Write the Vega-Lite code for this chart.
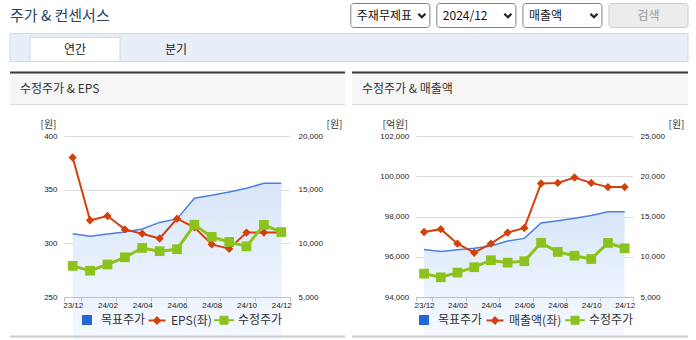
{
  "$schema": "https://vega.github.io/schema/vega-lite/v6.json",
  "background": "#ffffff",
  "padding": {"left": 4, "top": 2.5, "right": 0, "bottom": 0},
  "config": {"view": {"stroke": null}, "font": "Noto Sans CJK KR"},
  "datasets": {
    "monthly": [
      {"month": "23/12", "target": 10900, "adj": 7900, "eps": 380, "revenue": 97230},
      {"month": "24/01", "target": 10650, "adj": 7450, "eps": 321.5, "revenue": 97370},
      {"month": "24/02", "target": 10870, "adj": 8030, "eps": 325.5, "revenue": 96650},
      {"month": "24/03", "target": 11050, "adj": 8700, "eps": 313, "revenue": 96200},
      {"month": "24/04", "target": 11330, "adj": 9570, "eps": 309, "revenue": 96650},
      {"month": "24/05", "target": 11950, "adj": 9270, "eps": 304.5, "revenue": 97200},
      {"month": "24/06", "target": 12280, "adj": 9450, "eps": 323, "revenue": 97430},
      {"month": "24/07", "target": 14200, "adj": 11730, "eps": 315, "revenue": 99640},
      {"month": "24/08", "target": 14470, "adj": 10600, "eps": 299, "revenue": 99670},
      {"month": "24/09", "target": 14780, "adj": 10130, "eps": 295, "revenue": 99940},
      {"month": "24/10", "target": 15130, "adj": 9720, "eps": 310, "revenue": 99670},
      {"month": "24/11", "target": 15600, "adj": 11720, "eps": 310, "revenue": 99460},
      {"month": "24/12", "target": 15600, "adj": 11050, "eps": 310, "revenue": 99460}
    ],
    "controls": [
      {"label": "주재무제표", "kind": "select"},
      {"label": "2024/12", "kind": "select"},
      {"label": "매출액", "kind": "select"},
      {"label": "검색", "kind": "button"}
    ],
    "tabs": [
      {"tab": "연간", "active": true},
      {"tab": "분기", "active": false}
    ]
  },
  "spacing": 4,
  "bounds": "full",
  "resolve": {"scale": {"color": "independent", "fill": "independent", "stroke": "independent", "shape": "independent"}},
  "vconcat": [
    {
      "width": 678,
      "height": 24,
      "title": {"text": "주가 & 컨센서스", "anchor": "start", "offset": -21, "font": "Noto Sans CJK KR", "fontSize": 15, "fontWeight": "normal", "color": "#2b3f6b"},
      "data": {"name": "controls"},
      "encoding": {
        "x": {"field": "label", "type": "nominal", "sort": null, "scale": {"type": "band", "domain": ["주재무제표", "2024/12", "매출액", "검색"], "range": [340.8, 678], "paddingInner": 0.0814, "paddingOuter": 0}, "axis": null}
      },
      "layer": [
        {"transform": [{"filter": "datum.kind === 'select'"}], "mark": {"type": "rect", "fill": "#ffffff", "stroke": "#808080", "strokeWidth": 1, "cornerRadius": 3}},
        {"transform": [{"filter": "datum.kind === 'button'"}], "mark": {"type": "rect", "fill": "#ececec", "stroke": "#cccccc", "strokeWidth": 1, "cornerRadius": 3}},
        {"transform": [{"filter": "datum.kind === 'select'"}], "mark": {"type": "text", "align": "left", "baseline": "middle", "dx": 6, "font": "Noto Sans CJK KR", "fontSize": 12, "color": "#111111"},
         "encoding": {"x": {"field": "label", "type": "nominal", "sort": null, "bandPosition": 0, "scale": {"type": "band", "domain": ["주재무제표", "2024/12", "매출액", "검색"], "range": [340.8, 678], "paddingInner": 0.0814, "paddingOuter": 0}, "axis": null}, "text": {"field": "label"}}},
        {"transform": [{"filter": "datum.kind === 'select'"}], "mark": {"type": "point", "shape": "M-1,-0.5L0,0.5L1,-0.5", "filled": false, "stroke": "#222222", "strokeWidth": 2.2, "size": 50, "opacity": 1, "xOffset": -8},
         "encoding": {"x": {"field": "label", "type": "nominal", "sort": null, "bandPosition": 1, "scale": {"type": "band", "domain": ["주재무제표", "2024/12", "매출액", "검색"], "range": [340.8, 678], "paddingInner": 0.0814, "paddingOuter": 0}, "axis": null}}},
        {"transform": [{"filter": "datum.kind === 'button'"}], "mark": {"type": "text", "align": "center", "baseline": "middle", "font": "Noto Sans CJK KR", "fontSize": 12, "color": "#999999"},
         "encoding": {"x": {"field": "label", "type": "nominal", "sort": null, "bandPosition": 0.5, "scale": {"type": "band", "domain": ["주재무제표", "2024/12", "매출액", "검색"], "range": [340.8, 678], "paddingInner": 0.0814, "paddingOuter": 0}, "axis": null}, "text": {"field": "label"}}}
      ]
    },
    {
      "width": 678,
      "height": 34,
      "layer": [
        {"data": {"values": [{"part": "bar"}]}, "mark": {"type": "rect", "fill": "#e8eef8", "stroke": "#d3dbe7", "strokeWidth": 1},
         "encoding": {"y": {"field": "part", "type": "nominal", "scale": {"type": "band", "paddingInner": 0, "paddingOuter": 0.107, "align": 0}, "axis": null}}},
        {"data": {"name": "tabs"}, "transform": [{"filter": "datum.active"}], "mark": {"type": "rect", "fill": "#ffffff", "stroke": "#cfd7e3", "strokeWidth": 1},
         "encoding": {
           "x": {"field": "tab", "type": "nominal", "sort": null, "scale": {"type": "band", "domain": ["연간", "분기"], "range": [20, 211], "paddingInner": 0.109, "paddingOuter": 0}, "axis": null},
           "y": {"datum": "tab", "type": "nominal", "scale": {"type": "band", "domain": ["tab"], "paddingInner": 0, "paddingOuter": 0.2083, "align": 0.4}, "axis": null}
         }},
        {"data": {"name": "tabs"}, "mark": {"type": "text", "align": "center", "baseline": "middle", "font": "Noto Sans CJK KR", "fontSize": 12, "color": "#222222"},
         "encoding": {
           "x": {"field": "tab", "type": "nominal", "sort": null, "bandPosition": 0.5, "scale": {"type": "band", "domain": ["연간", "분기"], "range": [20, 211], "paddingInner": 0.109, "paddingOuter": 0}, "axis": null},
           "y": {"datum": "tab", "type": "nominal", "bandPosition": 0.5, "scale": {"type": "band", "domain": ["tab"], "paddingInner": 0, "paddingOuter": 0.2083, "align": 0.4}, "axis": null},
           "text": {"field": "tab"}
         }}
      ],
      "resolve": {"scale": {"y": "independent"}}
    },
    {
      "columns": 2,
      "bounds": "flush",
      "align": "each",
      "spacing": {"row": 31.5, "column": 7},
      "resolve": {"scale": {"color": "independent", "fill": "independent", "stroke": "independent", "shape": "independent"}},
      "concat": [
        {
          "width": 335,
          "height": 32,
          "view": {"fill": "#f5f5f5", "stroke": null},
          "layer": [
            {"data": {"values": [{"edge": "bottom"}]}, "mark": {"type": "rule", "color": "#dddddd", "strokeWidth": 1},
             "encoding": {"y": {"field": "edge", "type": "nominal", "scale": {"type": "point", "domain": ["top", "bottom"], "padding": 0}, "axis": null}}},
            {"data": {"values": [{"edge": "top"}]}, "mark": {"type": "rule", "color": "#3a3a3a", "strokeWidth": 2},
             "encoding": {"y": {"field": "edge", "type": "nominal", "scale": {"type": "point", "domain": ["top", "bottom"], "padding": 0}, "axis": null}}},
            {"data": {"values": [{"title": "수정주가 & EPS"}]}, "mark": {"type": "text", "align": "left", "baseline": "middle", "dx": 10, "font": "Noto Sans CJK KR", "fontSize": 12, "color": "#333333"},
             "encoding": {"x": {"field": "title", "type": "nominal", "scale": {"type": "point", "padding": 0, "align": 0}, "axis": null}, "text": {"field": "title"}}}
          ]
        },
        {
          "width": 336,
          "height": 32,
          "view": {"fill": "#f5f5f5", "stroke": null},
          "layer": [
            {"data": {"values": [{"edge": "bottom"}]}, "mark": {"type": "rule", "color": "#dddddd", "strokeWidth": 1},
             "encoding": {"y": {"field": "edge", "type": "nominal", "scale": {"type": "point", "domain": ["top", "bottom"], "padding": 0}, "axis": null}}},
            {"data": {"values": [{"edge": "top"}]}, "mark": {"type": "rule", "color": "#3a3a3a", "strokeWidth": 2},
             "encoding": {"y": {"field": "edge", "type": "nominal", "scale": {"type": "point", "domain": ["top", "bottom"], "padding": 0}, "axis": null}}},
            {"data": {"values": [{"title": "수정주가 & 매출액"}]}, "mark": {"type": "text", "align": "left", "baseline": "middle", "dx": 10, "font": "Noto Sans CJK KR", "fontSize": 12, "color": "#333333"},
             "encoding": {"x": {"field": "title", "type": "nominal", "scale": {"type": "point", "padding": 0, "align": 0}, "axis": null}, "text": {"field": "title"}}}
          ]
        },
        {
          "width": 280,
          "height": 161,
          "encoding": {
            "x": {"field": "month", "type": "ordinal", "bandPosition": 0.5,
              "scale": {"type": "band", "domain": ["23/12", "24/01", "24/02", "24/03", "24/04", "24/05", "24/06", "24/07", "24/08", "24/09", "24/10", "24/11", "24/12"], "range": [54, 280], "paddingInner": 0, "paddingOuter": 0},
              "axis": {"values": ["23/12", "24/02", "24/04", "24/06", "24/08", "24/10", "24/12"], "labelAngle": 0, "tickBand": "extent", "domainColor": "#b9c3d6", "tickColor": "#b9c3d6", "tickSize": 4, "labelPadding": 0, "labelFont": "Liberation Sans", "labelFontSize": 8, "labelColor": "#222222", "grid": false, "title": null, "zindex": 1}}
          },
          "layer": [
            {"data": {"name": "monthly"}, "mark": {"type": "area", "opacity": 1, "color": {"gradient": "linear", "x1": 0, "y1": 0, "x2": 0, "y2": 1, "stops": [{"offset": 0, "color": "#d8e6f9"}, {"offset": 1, "color": "#f7faff"}]}},
             "encoding": {"y": {"field": "target", "type": "quantitative", "scale": {"domain": [5000, 20000], "zero": false, "nice": false}, "axis": null}}},
            {"data": {"name": "monthly"}, "mark": {"type": "line", "color": "#4a80de", "strokeWidth": 1.5},
             "encoding": {"y": {"field": "target", "type": "quantitative", "scale": {"domain": [5000, 20000], "zero": false, "nice": false}, "axis": null}}},
            {"data": {"name": "monthly"}, "mark": {"type": "line", "color": "#d4400c", "strokeWidth": 2, "point": {"shape": "diamond", "filled": true, "size": 70, "color": "#d4400c"}},
             "encoding": {"y": {"field": "eps", "type": "quantitative", "scale": {"domain": [250, 400], "zero": false, "nice": false},
               "axis": {"orient": "left", "offset": -54, "values": [250, 300, 350, 400], "grid": true, "gridColor": "#dddddd", "domain": false, "ticks": false, "labelPadding": 7, "labelFont": "Liberation Sans", "labelFontSize": 8, "labelColor": "#222222", "title": "[원]", "titleAngle": 0, "titleX": -16, "titleY": -12, "titleAlign": "center", "titleBaseline": "middle", "titleFont": "Noto Sans CJK KR", "titleFontSize": 10, "titleFontWeight": "normal", "titleColor": "#333333"}}}},
            {"data": {"name": "monthly"}, "mark": {"type": "line", "color": "#8cc21c", "strokeWidth": 3, "point": {"shape": "square", "filled": true, "size": 95, "color": "#8cc21c"}},
             "encoding": {"y": {"field": "adj", "type": "quantitative", "scale": {"domain": [5000, 20000], "zero": false, "nice": false},
               "axis": {"orient": "right", "values": [5000, 10000, 15000, 20000], "format": ",d", "grid": false, "domain": false, "ticks": false, "labelPadding": 8, "labelFont": "Liberation Sans", "labelFontSize": 8, "labelColor": "#222222", "title": "[원]", "titleAngle": 0, "titleX": 44, "titleY": -12, "titleAlign": "center", "titleBaseline": "middle", "titleFont": "Noto Sans CJK KR", "titleFontSize": 10, "titleFontWeight": "normal", "titleColor": "#333333"}}}},
            {"data": {"values": [{"series": "목표주가"}, {"series": "EPS(좌)"}, {"series": "수정주가"}]},
             "mark": {"type": "point", "opacity": 0, "strokeWidth": 2},
             "encoding": {
               "fill": {"field": "series", "type": "nominal", "scale": {"domain": ["목표주가", "EPS(좌)", "수정주가"], "range": ["#2368d8", "#d4400c", "#8cc21c"]},
                 "legend": {"orient": "none", "legendX": 71, "legendY": 178, "direction": "horizontal", "title": null, "labelFont": "Noto Sans CJK KR", "labelFontSize": 12, "labelColor": "#333333", "symbolSize": 90, "labelOffset": 8, "columnPadding": -2, "symbolStrokeWidth": 2, "encode": {"symbols": {"update": {"opacity": {"value": 1}}}}}},
               "stroke": {"field": "series", "type": "nominal", "scale": {"domain": ["목표주가", "EPS(좌)", "수정주가"], "range": ["#2368d8", "#d4400c", "#8cc21c"]}, "legend": {}},
               "shape": {"field": "series", "type": "nominal", "scale": {"domain": ["목표주가", "EPS(좌)", "수정주가"], "range": ["M-0.84,-0.84L0.84,-0.84L0.84,0.84L-0.84,0.84Z", "M-1.8,0L1.8,0M0,-0.63L0.63,0L0,0.63L-0.63,0Z", "M-2.1,0L2.1,0M-0.74,-0.74L0.74,-0.74L0.74,0.74L-0.74,0.74Z"]}, "legend": {}}
             }}
          ],
          "resolve": {"scale": {"y": "independent"}}
        },
        {
          "width": 281,
          "height": 161,
          "encoding": {
            "x": {"field": "month", "type": "ordinal", "bandPosition": 0.5,
              "scale": {"type": "band", "domain": ["23/12", "24/01", "24/02", "24/03", "24/04", "24/05", "24/06", "24/07", "24/08", "24/09", "24/10", "24/11", "24/12"], "range": [63.7, 281], "paddingInner": 0, "paddingOuter": 0},
              "axis": {"values": ["23/12", "24/02", "24/04", "24/06", "24/08", "24/10", "24/12"], "labelAngle": 0, "tickBand": "extent", "domainColor": "#b9c3d6", "tickColor": "#b9c3d6", "tickSize": 4, "labelPadding": 0, "labelFont": "Liberation Sans", "labelFontSize": 8, "labelColor": "#222222", "grid": false, "title": null, "zindex": 1}}
          },
          "layer": [
            {"data": {"name": "monthly"}, "mark": {"type": "area", "opacity": 1, "color": {"gradient": "linear", "x1": 0, "y1": 0, "x2": 0, "y2": 1, "stops": [{"offset": 0, "color": "#d8e6f9"}, {"offset": 1, "color": "#f7faff"}]}},
             "encoding": {"y": {"field": "target", "type": "quantitative", "scale": {"domain": [5000, 25000], "zero": false, "nice": false}, "axis": null}}},
            {"data": {"name": "monthly"}, "mark": {"type": "line", "color": "#4a80de", "strokeWidth": 1.5},
             "encoding": {"y": {"field": "target", "type": "quantitative", "scale": {"domain": [5000, 25000], "zero": false, "nice": false}, "axis": null}}},
            {"data": {"name": "monthly"}, "mark": {"type": "line", "color": "#d4400c", "strokeWidth": 2, "point": {"shape": "diamond", "filled": true, "size": 70, "color": "#d4400c"}},
             "encoding": {"y": {"field": "revenue", "type": "quantitative", "scale": {"domain": [94000, 102000], "zero": false, "nice": false},
               "axis": {"orient": "left", "offset": -63.7, "values": [94000, 96000, 98000, 100000, 102000], "format": ",d", "grid": true, "gridColor": "#dddddd", "domain": false, "ticks": false, "labelPadding": 7, "labelFont": "Liberation Sans", "labelFontSize": 8, "labelColor": "#222222", "title": "[억원]", "titleAngle": 0, "titleX": -21, "titleY": -12, "titleAlign": "center", "titleBaseline": "middle", "titleFont": "Noto Sans CJK KR", "titleFontSize": 10, "titleFontWeight": "normal", "titleColor": "#333333"}}}},
            {"data": {"name": "monthly"}, "mark": {"type": "line", "color": "#8cc21c", "strokeWidth": 3, "point": {"shape": "square", "filled": true, "size": 95, "color": "#8cc21c"}},
             "encoding": {"y": {"field": "adj", "type": "quantitative", "scale": {"domain": [5000, 25000], "zero": false, "nice": false},
               "axis": {"orient": "right", "values": [5000, 10000, 15000, 20000, 25000], "format": ",d", "grid": false, "domain": false, "ticks": false, "labelPadding": 7, "labelFont": "Liberation Sans", "labelFontSize": 8, "labelColor": "#222222", "title": "[원]", "titleAngle": 0, "titleX": 43, "titleY": -12, "titleAlign": "center", "titleBaseline": "middle", "titleFont": "Noto Sans CJK KR", "titleFontSize": 10, "titleFontWeight": "normal", "titleColor": "#333333"}}}},
            {"data": {"values": [{"series": "목표주가"}, {"series": "매출액(좌)"}, {"series": "수정주가"}]},
             "mark": {"type": "point", "opacity": 0, "strokeWidth": 2},
             "encoding": {
               "fill": {"field": "series", "type": "nominal", "scale": {"domain": ["목표주가", "매출액(좌)", "수정주가"], "range": ["#2368d8", "#d4400c", "#8cc21c"]},
                 "legend": {"orient": "none", "legendX": 66, "legendY": 178, "direction": "horizontal", "title": null, "labelFont": "Noto Sans CJK KR", "labelFontSize": 12, "labelColor": "#333333", "symbolSize": 90, "labelOffset": 8, "columnPadding": -1, "symbolStrokeWidth": 2, "encode": {"symbols": {"update": {"opacity": {"value": 1}}}}}},
               "stroke": {"field": "series", "type": "nominal", "scale": {"domain": ["목표주가", "매출액(좌)", "수정주가"], "range": ["#2368d8", "#d4400c", "#8cc21c"]}, "legend": {}},
               "shape": {"field": "series", "type": "nominal", "scale": {"domain": ["목표주가", "매출액(좌)", "수정주가"], "range": ["M-0.84,-0.84L0.84,-0.84L0.84,0.84L-0.84,0.84Z", "M-1.8,0L1.8,0M0,-0.63L0.63,0L0,0.63L-0.63,0Z", "M-2.1,0L2.1,0M-0.74,-0.74L0.74,-0.74L0.74,0.74L-0.74,0.74Z"]}, "legend": {}}
             }}
          ],
          "resolve": {"scale": {"y": "independent"}}
        },
        {
          "width": 335,
          "height": 8,
          "data": {"values": [{"edge": "bottom"}]},
          "mark": {"type": "rule", "color": "#cccccc", "strokeWidth": 2},
          "encoding": {"y": {"field": "edge", "type": "nominal", "scale": {"type": "point", "domain": ["top", "bottom"], "padding": 0}, "axis": null}}
        },
        {
          "width": 336,
          "height": 8,
          "data": {"values": [{"edge": "bottom"}]},
          "mark": {"type": "rule", "color": "#cccccc", "strokeWidth": 2},
          "encoding": {"y": {"field": "edge", "type": "nominal", "scale": {"type": "point", "domain": ["top", "bottom"], "padding": 0}, "axis": null}}
        }
      ]
    }
  ]
}
